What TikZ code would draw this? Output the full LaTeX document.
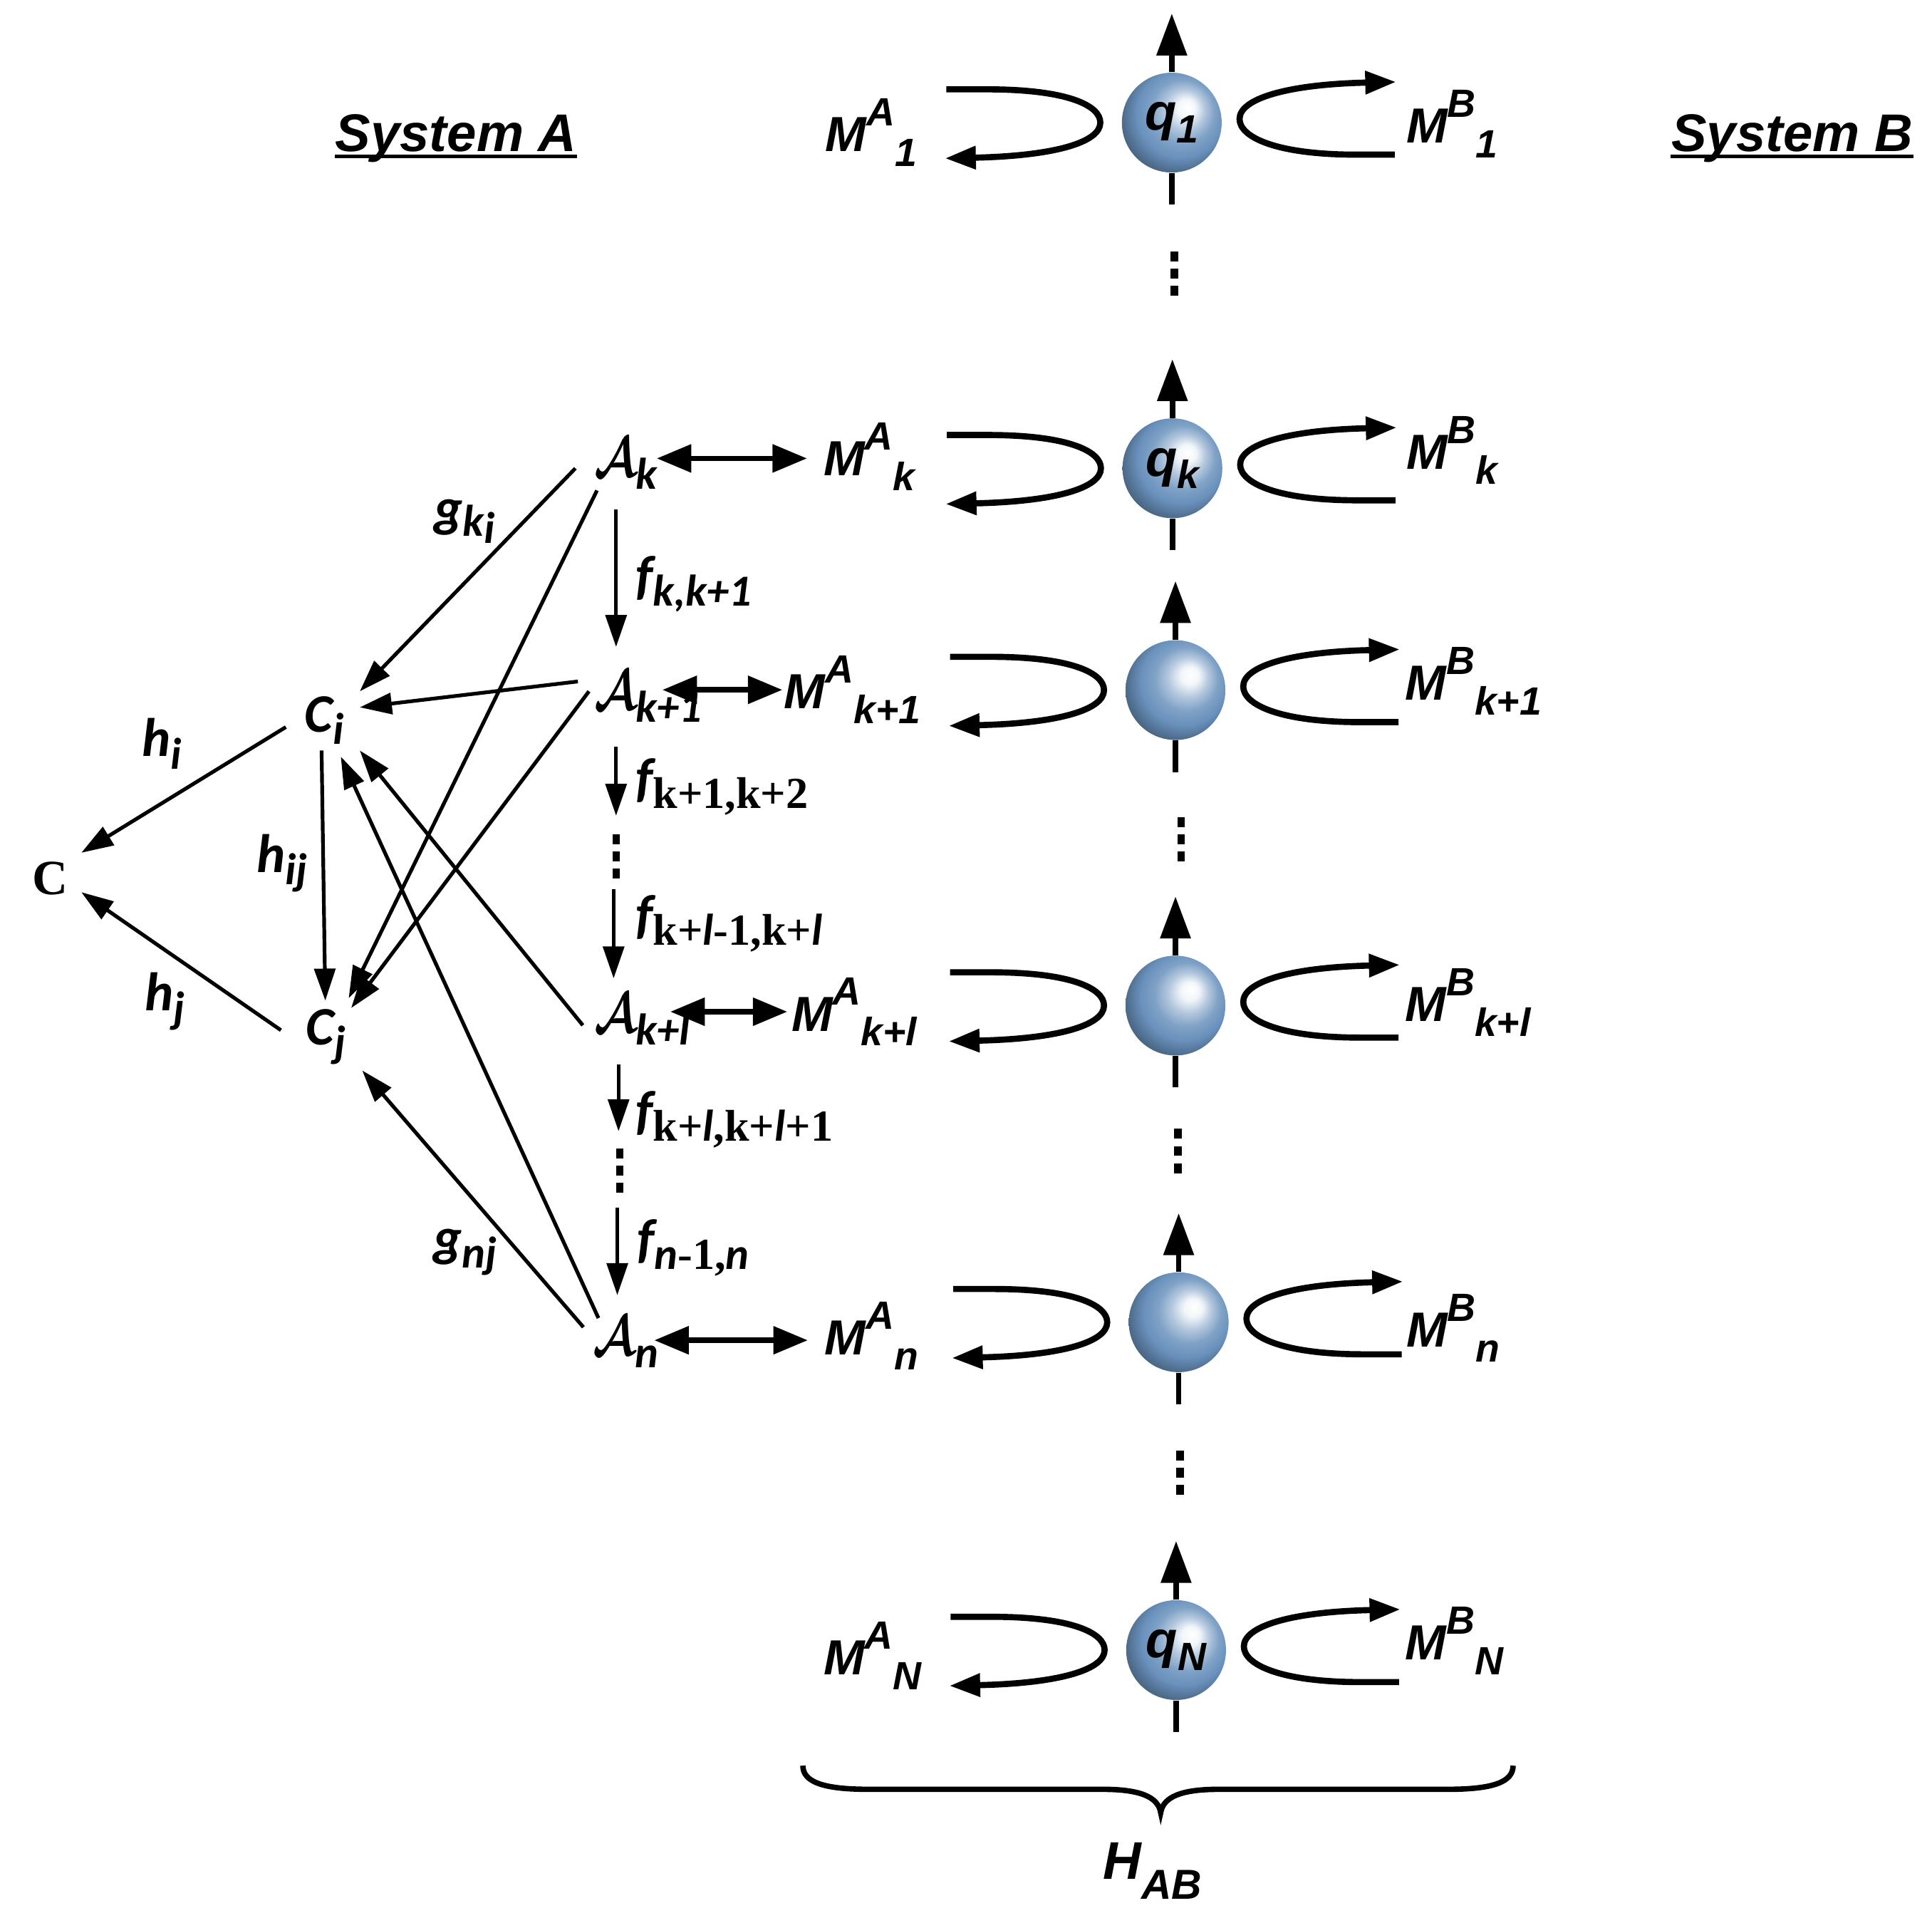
\RequirePackage{fix-cm}
\documentclass[tikz,border=0pt]{standalone}
\usepackage{bm}
\usepackage{fontspec}
\setmainfont{Liberation Sans}
\newfontfamily\carl{Carlito}
\newfontfamily\lser{Liberation Serif}
\usetikzlibrary{arrows.meta}
\definecolor{sphA}{RGB}{105,145,188}
\pgfdeclareradialshading{sphshade}{\pgfpoint{8bp}{8bp}}{%
 color(0bp)=(white); color(4.5bp)=(white!92!sphA); color(10bp)=(sphA!50!white); color(16bp)=(sphA!85!white);
 color(22bp)=(sphA); color(28bp)=(sphA!75!black); color(34bp)=(sphA!55!black);
 color(50bp)=(black)}
\newcommand\bigsz{\fontsize{20}{24}\selectfont}
\newcommand\titsz{\fontsize{21.5}{24}\selectfont}
\newcommand\csz{\fontsize{22}{24}\selectfont}
\newcommand\scsz{\fontsize{16}{18}\selectfont}
\newcommand\cssz{\fontsize{18}{20}\selectfont}
\newcommand\MAB[2]{M\raisebox{10.5pt}{\scsz #1}\raisebox{-6pt}{\scsz #2}}
\newcommand\sbs[1]{\raisebox{-5pt}{\scsz #1}}
\newcommand\csub[1]{\raisebox{-5pt}{\cssz #1}}
\newcommand\upser[1]{{\lser\bfseries\upshape #1}}
\newcommand\calA{\scalebox{0.8}[1]{\fontsize{23}{24}\selectfont$\bm{\mathcal{A}}$}}
\tikzset{
 lab/.style={inner sep=0pt, anchor=base west, font=\bigsz\bfseries\itshape},
 tlab/.style={inner sep=0pt, anchor=base west, font=\titsz\bfseries\itshape},
 clab/.style={inner sep=0pt, anchor=base west, font=\carl\csz\bfseries\itshape},
 thinar/.style={line width=1.5pt, -{Triangle[length=13pt,width=8.5pt]}},
 dblar/.style={line width=2.2pt, {Triangle[length=14pt,width=11pt]}-{Triangle[length=14pt,width=11pt]}},
 curvar/.style={line width=2.5pt, -{Triangle[length=12.5pt,width=9pt]}},
 spinar/.style={line width=2.2pt, -{Triangle[length=17pt,width=12pt]}},
 spinl/.style={line width=2.2pt},
 vdts/.style={line width=3pt, dash pattern=on 4pt off 3pt},
 sph/.style={circle, minimum size=40.5pt, inner sep=0pt, shading=sphshade, font=\fontsize{21}{24}\selectfont\bfseries\itshape},
 uline/.style={line width=1.5pt}
}
\begin{document}
\begin{tikzpicture}[x=0.5pt,y=-0.5pt]
\fill[white] (0,0) rectangle (1568,1556.4);
\path[use as bounding box] (0,0) rectangle (1568,1556.4);

% titles
\node[tlab] (sysA) at (271.7,122.6) {System A};
\draw[uline] ([yshift=-2.2pt]sysA.base west) -- ([yshift=-2.2pt]sysA.base east);
\node[tlab] (sysB) at (1356,122.6) {System B};
\draw[uline] ([yshift=-2.2pt]sysB.base west) -- ([yshift=-2.2pt]sysB.base east);

% spheres with spins and curved arrows
\foreach \cx/\cy/\nm/\lb in {951/99.5/s1/{q\sbs{1}}, 951.5/380/sk/{q\sbs{k}}, 954/560/sk1/{}, 954/816/skl/{}, 956.6/1073/sn/{}, 954.5/1339/sN/{q\sbs{N}}}{
  \node[sph] (\nm) at (\cx,\cy) {\lb};
  \draw[spinar] (\nm.north) -- (\cx,\cy-88.5);
  \draw[spinl] (\cx,\cy+41) -- (\cx,\cy+66.5);
  \draw[curvar] (\cx-183,\cy-27) -- (\cx-150,\cy-27) .. controls (\cx-85,\cy-27) and (\cx-58,\cy-14) .. (\cx-58,\cy) .. controls (\cx-58,\cy+16) and (\cx-95,\cy+27) .. (\cx-184,\cy+29);
  \draw[curvar] (\cx+181,\cy+26) -- (\cx+150,\cy+26) .. controls (\cx+85,\cy+26) and (\cx+55,\cy+12) .. (\cx+55,\cy-3) .. controls (\cx+55,\cy-19) and (\cx+92,\cy-31) .. (\cx+182,\cy-33);
}

% vertical dots
\draw[vdts] (953,204) -- (953,240);
\draw[vdts] (958.6,663) -- (958.6,699);
\draw[vdts] (956,916) -- (956,952);
\draw[vdts] (957.7,1177) -- (957.7,1213);

% M labels, system A side
\node[lab] (MA1) at (669.5,123) {\MAB{A}{1}};
\node[lab] (MAk) at (668,386) {\MAB{A}{k}};
\node[lab] (MAk1) at (636,575) {\MAB{A}{k+1}};
\node[lab] (MAkl) at (642,836.7) {\MAB{A}{k+l}};
\node[lab] (MAn) at (669,1099.6) {\MAB{A}{n}};
\node[lab] (MAN) at (668,1359) {\MAB{A}{N}};
% M labels, system B side
\node[lab] (MB1) at (1141,116) {\MAB{B}{1}};
\node[lab] (MBk) at (1141,381) {\MAB{B}{k}};
\node[lab] (MBk1) at (1140,568) {\MAB{B}{k+1}};
\node[lab] (MBkl) at (1140,829) {\MAB{B}{k+l}};
\node[lab] (MBn) at (1141,1093) {\MAB{B}{n}};
\node[lab] (MBN) at (1140,1347) {\MAB{B}{N}};

% A nodes
\node[clab] (Ak) at (482,387) {\calA\csub{k}};
\node[clab] (Ak1) at (482,576) {\calA\csub{k+1}};
\node[clab] (Akl) at (482,838) {\calA\csub{k+l}};
\node[clab] (An) at (481,1100) {\calA\csub{n}};
% C nodes
\node[clab] (Ci) at (247,594) {C\csub{i}};
\node[clab] (Cj) at (248,848) {C\csub{j}};
\node[clab] (C) at (26,726) {\bigsz\upser{C}};

% double arrows
\draw[dblar] ([shift={(51,-15)}]Ak.base west) -- ([shift={(-13,-14)}]MAk.base west);
\draw[dblar] ([shift={(55.6,-16.2)}]Ak1.base west) -- ([shift={(-1,-15.2)}]MAk1.base west);
\draw[dblar] ([shift={(62,-17)}]Akl.base west) -- ([shift={(-3,-15.7)}]MAkl.base west);
\draw[dblar] ([shift={(50,-12.4)}]An.base west) -- ([shift={(-13.4,-12)}]MAn.base west);

% f chain
\coordinate (f2e) at (500,662);
\coordinate (f3s) at (498,721.7);
\coordinate (f4e) at (502,918);
\coordinate (f5s) at (501,980);
\draw[thinar] ([shift={(18,26.4)}]Ak.base west) -- ([shift={(18,-51)}]Ak1.base west);
\draw[thinar] ([shift={(18,30)}]Ak1.base west) -- (f2e);
\draw[vdts] (500,677) -- (500,713);
\draw[thinar] (f3s) -- ([shift={(16,-44)}]Akl.base west);
\draw[thinar] ([shift={(20,26)}]Akl.base west) -- (f4e);
\draw[vdts] (503,932) -- (503,968);
\draw[thinar] (f5s) -- ([shift={(20,-49)}]An.base west);

\node[clab] (f1) at (515.5,482) {f\csub{k,k+1}};
\node[clab] (f2) at (515.5,646) {f\csub{\upser{k+1,k+2}}};
\node[clab] (f3) at (515.5,757) {f\csub{\upser{k+}l\upser{-1,k+}l}};
\node[clab] (f4) at (515.5,916) {f\csub{\upser{k+}l\upser{,k+}l\upser{+1}}};
\node[clab] (f5) at (516.8,1020) {f\csub{n\upser{-1,}n}};

% edges to C nodes
\draw[thinar] ([shift={(-15,-4)}]Ci.base west) -- ([shift={(40,-34)}]C.base west);
\draw[thinar] ([shift={(-20,-12)}]Cj.base west) -- ([shift={(40,-2)}]C.base west);
\draw[thinar] ([shift={(14,15)}]Ci.base west) -- ([shift={(16,-36)}]Cj.base west);
\draw[thinar] ([shift={(-15,-7)}]Ak.base west) -- ([shift={(45,-33)}]Ci.base west);
\draw[thinar] ([shift={(2.5,11)}]Ak.base west) -- ([shift={(35,-38)}]Cj.base west);
\draw[thinar] ([shift={(-13,-23)}]Ak1.base west) -- ([shift={(45,-20)}]Ci.base west);
\draw[thinar] ([shift={(-4,-15)}]Ak1.base west) -- ([shift={(37,-30)}]Cj.base west);
\draw[thinar] ([shift={(-9,-6)}]Akl.base west) -- ([shift={(45,15)}]Ci.base west);
\draw[thinar] ([shift={(4.7,-30.4)}]An.base west) -- ([shift={(29.6,20)}]Ci.base west);
\draw[thinar] ([shift={(-7.5,-23)}]An.base west) -- ([shift={(46,20.7)}]Cj.base west);

% edge labels
\node[clab] (gki) at (352,427) {g\raisebox{-4pt}{\cssz k\raisebox{-3pt}{i}}};
\node[clab] (gnj) at (351.4,1019) {g\csub{nj}};
\node[clab] (hi) at (115,614) {h\csub{i}};
\node[clab] (hij) at (208,708) {h\csub{ij}};
\node[clab] (hj) at (117,820) {h\csub{j}};

% brace and H_AB
\draw[line width=2.2pt] (651.6,1432.8) .. controls (651.6,1446) and (668,1452) .. (705,1452) -- (895,1452) .. controls (925,1452) and (940,1458) .. (942,1471) .. controls (944,1458) and (959,1452) .. (989,1452) -- (1175,1452) .. controls (1212,1452) and (1228,1446) .. (1228,1432.8);
\node[tlab] (HAB) at (895,1525) {H\raisebox{-8pt}{\fontsize{17}{18}\selectfont AB}};
\end{tikzpicture}
\end{document}
